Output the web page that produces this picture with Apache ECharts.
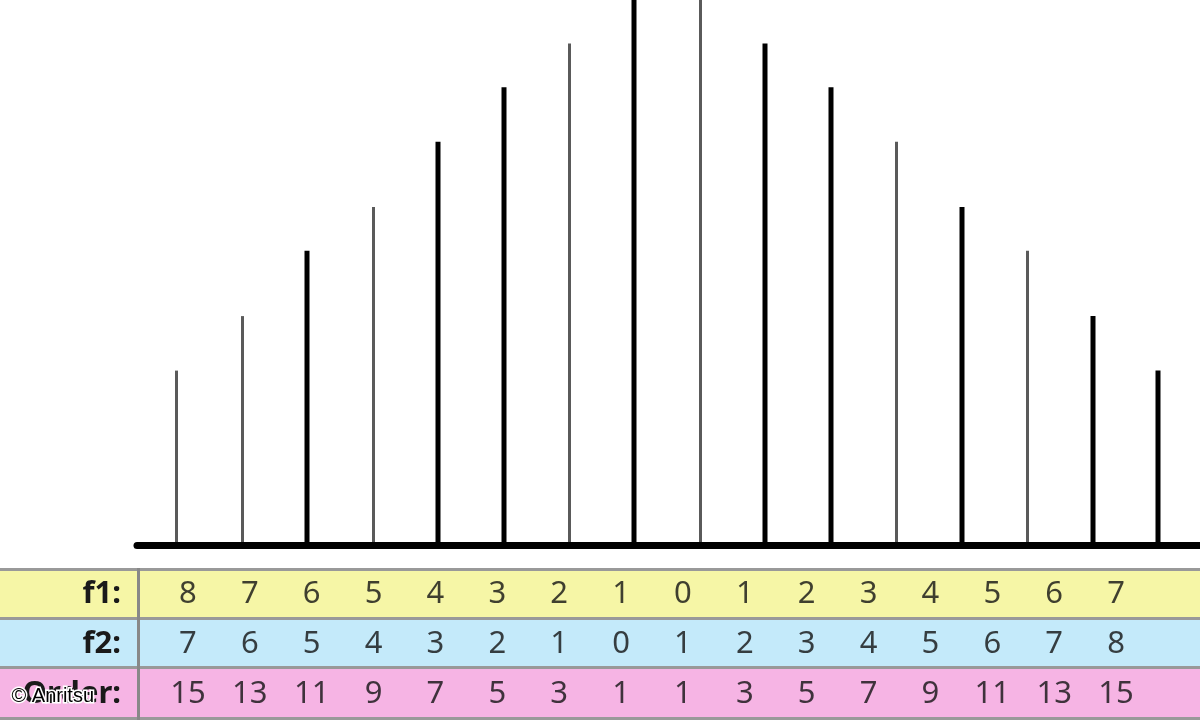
<!DOCTYPE html>
<html>
<head>
<meta charset="utf-8">
<title>Intermodulation products</title>
<script src="https://cdn.jsdelivr.net/npm/echarts@6/dist/echarts.min.js"></script>
<style>
  html, body { margin: 0; padding: 0; background: #fff; }
  #chart { width: 1200px; height: 720px; }
</style>
</head>
<body>
<div id="chart"></div>
<script>
// spectral lines, left to right
const amplitude = [32, 42, 54, 62, 74, 84, 92, 104, 104, 92, 84, 74, 62, 54, 42, 32]
// table rows under the spectrum
const rowLabels = ['f1:', 'f2:', 'Order:']
const f1Index = [8, 7, 6, 5, 4, 3, 2, 1, 0, 1, 2, 3, 4, 5, 6, 7]
const f2Index = [7, 6, 5, 4, 3, 2, 1, 0, 1, 2, 3, 4, 5, 6, 7, 8]
const order = [15, 13, 11, 9, 7, 5, 3, 1, 1, 3, 5, 7, 9, 11, 13, 15]

// which stems are drawn heavy (black) vs thin (grey)
const heavyStems = [2, 4, 5, 7, 9, 10, 12, 14, 15]

const font = 'Noto Sans'
const rowColors = ['#f6f6a6', '#c4eafa', '#f6b4e4']
const lineGrey = '#999'

const chart = echarts.init(document.getElementById('chart'))

const tableData = []
;[f1Index, f2Index, order].forEach((row, r) => {
  row.forEach((v, i) => tableData.push([i, r, v]))
})

chart.setOption({
  animation: false,
  backgroundColor: '#fff',
  grid: [
    { left: 137, right: 0, top: 0, bottom: 175 },
    { left: 157, right: 53, top: 569, height: 150 }
  ],
  xAxis: [
    {
      type: 'value',
      gridIndex: 0,
      min: -0.6,
      max: 15.64,
      z: 10,
      axisLine: { show: true, lineStyle: { color: '#000', width: 7, cap: 'round' } },
      axisTick: { show: false },
      axisLabel: { show: false },
      splitLine: { show: false }
    },
    {
      type: 'category',
      gridIndex: 1,
      data: f1Index.map((_, i) => i),
      axisLine: { show: false },
      axisTick: { show: false },
      axisLabel: { show: false }
    }
  ],
  yAxis: [
    {
      type: 'value',
      gridIndex: 0,
      min: 0,
      max: 100,
      show: false
    },
    {
      type: 'category',
      gridIndex: 1,
      inverse: true,
      data: rowLabels,
      z: 5,
      axisLine: { show: false },
      axisTick: { show: false },
      axisLabel: {
        margin: 36,
        fontFamily: font,
        fontSize: 31,
        fontWeight: 'bold',
        color: '#1a1a1a'
      }
    }
  ],
  graphic: [
    { type: 'rect', z: -10, shape: { x: 0, y: 569, width: 1200, height: 49 }, style: { fill: rowColors[0] } },
    { type: 'rect', z: -10, shape: { x: 0, y: 618, width: 1200, height: 49 }, style: { fill: rowColors[1] } },
    { type: 'rect', z: -10, shape: { x: 0, y: 667, width: 1200, height: 53 }, style: { fill: rowColors[2] } },
    { type: 'line', z: -9, shape: { x1: 0, y1: 569.5, x2: 1200, y2: 569.5 }, style: { stroke: lineGrey, lineWidth: 3 } },
    { type: 'line', z: -9, shape: { x1: 0, y1: 618.5, x2: 1200, y2: 618.5 }, style: { stroke: lineGrey, lineWidth: 3 } },
    { type: 'line', z: -9, shape: { x1: 0, y1: 667.5, x2: 1200, y2: 667.5 }, style: { stroke: lineGrey, lineWidth: 3 } },
    { type: 'line', z: -9, shape: { x1: 0, y1: 718.5, x2: 1200, y2: 718.5 }, style: { stroke: lineGrey, lineWidth: 3 } },
    { type: 'line', z: -9, shape: { x1: 138.5, y1: 568, x2: 138.5, y2: 720 }, style: { stroke: '#888', lineWidth: 3 } },
    {
      type: 'text',
      z: 100,
      left: 10,
      top: 685,
      style: {
        text: '© Anritsu',
        font: '20px "Liberation Sans", Arial, sans-serif',
        fill: '#000',
        stroke: '#fff',
        lineWidth: 3
      }
    }
  ],
  series: [
    {
      name: 'spectrum',
      type: 'custom',
      xAxisIndex: 0,
      yAxisIndex: 0,
      clip: true,
      data: amplitude.map((a, i) => [i, a]),
      renderItem(params, api) {
        const base = api.coord([api.value(0), 0])
        const top = api.coord([api.value(0), api.value(1)])
        const heavy = heavyStems.includes(params.dataIndex)
        const x = Math.round(base[0]) + (heavy ? 0 : 0.5)
        return {
          type: 'line',
          shape: { x1: x, y1: base[1], x2: x, y2: top[1] },
          style: {
            stroke: heavy ? '#000' : '#5a5a5a',
            lineWidth: heavy ? 5 : 3
          }
        }
      }
    },
    {
      name: 'table',
      type: 'scatter',
      xAxisIndex: 1,
      yAxisIndex: 1,
      symbolSize: 1,
      itemStyle: { color: 'rgba(0,0,0,0)' },
      data: tableData,
      label: {
        show: true,
        position: 'inside',
        formatter: p => String(p.value[2]),
        fontFamily: font,
        fontSize: 31,
        color: '#111'
      }
    }
  ]
})
</script>
</body>
</html>
